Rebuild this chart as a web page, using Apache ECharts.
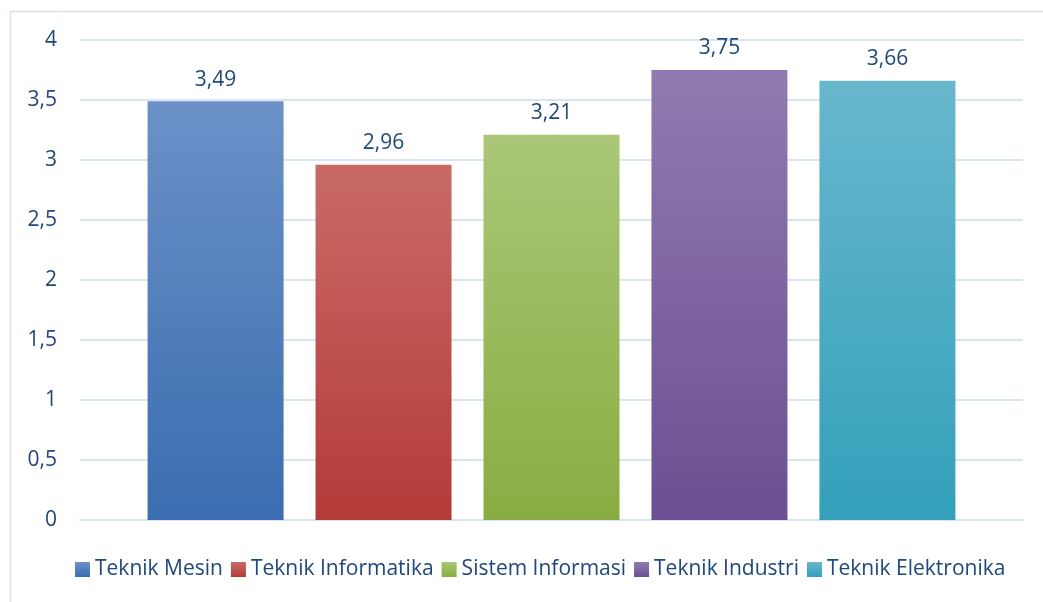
<!DOCTYPE html>
<html><head><meta charset="utf-8">
<script src="https://cdn.jsdelivr.net/npm/echarts@6/dist/echarts.min.js"></script>
<style>html,body{margin:0;padding:0;background:#fff}#c{width:1043px;height:602px}</style>
</head><body><div id="c"></div>
<script>
const categories = ['Teknik Mesin','Teknik Informatika','Sistem Informasi','Teknik Industri','Teknik Elektronika'];
const values = [3.49, 2.96, 3.21, 3.75, 3.66];
const topColors = ['#6b91c8','#c96a67','#a9c777','#917bb0','#68b7cd'];
const bottomColors = ['#3a6db0','#b33b38','#89ad42','#6b4f93','#34a0bb'];
const yTicks = [0,0.5,1,1.5,2,2.5,3,3.5,4];
const comma = v => String(v).replace('.', ',');
const chart = echarts.init(document.getElementById('c'));
const series = categories.map((name, i) => ({
  name, type: 'bar', data: [values[i]], barWidth: 136, barGap: '23.5%',
  itemStyle: { color: new echarts.graphic.LinearGradient(0,0,0,1,[{offset:0,color:topColors[i]},{offset:1,color:bottomColors[i]}]) },
  label: { show: true, position: 'top', distance: 11, color: '#21487a', fontSize: 21, fontFamily: 'Open Sans', formatter: p => comma(p.value) }
}));
chart.setOption({
  animation: false,
  graphic: [{ type: 'rect', shape: { x: 10.5, y: 11.5, width: 1100, height: 700 }, style: { fill: 'none', stroke: '#d6e0ee', lineWidth: 1.5 }, silent: true }],
  grid: { left: 80, right: 20, top: 40, bottom: 82, containLabel: false },
  legend: {
    bottom: 17, left: 70, icon: 'rect', itemWidth: 15, itemHeight: 15, itemGap: 8,
    textStyle: { color: '#21487a', fontSize: 21, fontFamily: 'Open Sans' },
    data: categories
  },
  xAxis: { type: 'category', data: [''], axisLine: { lineStyle: { color: '#d9e4f2', width: 2 } }, axisTick: { show: false }, axisLabel: { show: false } },
  yAxis: {
    type: 'value', min: 0, max: 4, interval: 0.5,
    axisLine: { show: false }, axisTick: { show: false },
    axisLabel: { color: '#21487a', fontSize: 21, fontFamily: 'Open Sans', margin: 23, formatter: v => comma(v) },
    splitLine: { lineStyle: { color: '#d9e4f2', width: 2 } }
  },
  series
});
</script></body></html>
